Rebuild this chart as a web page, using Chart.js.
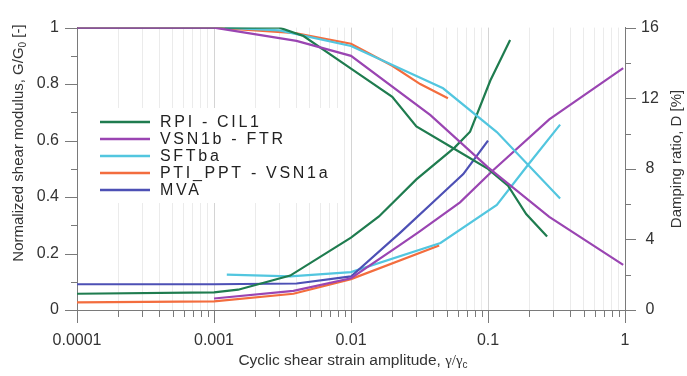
<!DOCTYPE html>
<html><head><meta charset="utf-8">
<script src="https://cdn.jsdelivr.net/npm/chart.js@4/dist/chart.umd.min.js"></script>
<style>html,body{margin:0;padding:0;background:#fff}#wrap{position:relative;width:687px;height:376px}</style>
</head><body><div id="wrap"><canvas id="c"></canvas></div>
<script>
// ---- tick labels ----
const xTickLabels = ['0.0001', '0.001', '0.01', '0.1', '1'];
const gTickLabels = ['0', '0.2', '0.4', '0.6', '0.8', '1'];
const dTickLabels = ['0', '4', '8', '12', '16'];

// ---- series names / colours ----
const seriesNames = ['RPI - CIL1', 'VSN1b - FTR', 'SFTba', 'PTI_PPT - VSN1a', 'MVA'];
const seriesColors = ['#1f7c4f', '#9a45b2', '#52c6df', '#f36d3e', '#4d50b5'];

// ---- G/G0 curves (left axis) ----
const rpiG_x = [0.0001, 0.001, 0.003, 0.0045, 0.01, 0.02, 0.03, 0.057, 0.1, 0.14, 0.19, 0.27];
const rpiG   = [1, 1, 1, 0.97, 0.855, 0.755, 0.65, 0.57, 0.50, 0.44, 0.34, 0.26];
const vsnG_x = [0.0001, 0.001, 0.004, 0.01, 0.038, 0.1, 0.28, 0.97];
const vsnG   = [1, 1, 0.953, 0.90, 0.69, 0.505, 0.33, 0.16];
const sftG_x = [0.0012, 0.003, 0.01, 0.047, 0.116, 0.336];
const sftG   = [1, 0.99, 0.935, 0.785, 0.63, 0.395];
const ptiG_x = [0.0001, 0.001, 0.004, 0.01, 0.02, 0.032, 0.051];
const ptiG   = [1, 1, 0.98, 0.943, 0.865, 0.80, 0.75];

// ---- Damping curves (right axis, %) ----
const rpiD_x = [0.0001, 0.001, 0.0015, 0.0036, 0.01, 0.016, 0.03, 0.057, 0.074, 0.104, 0.145];
const rpiD   = [0.92, 1.0, 1.15, 1.95, 4.1, 5.3, 7.4, 9.2, 10.1, 13.0, 15.3];
const vsnD_x = [0.001, 0.0038, 0.01, 0.022, 0.031, 0.0625, 0.11, 0.28, 0.97];
const vsnD   = [0.65, 1.08, 1.8, 3.6, 4.4, 6.1, 7.95, 10.8, 13.7];
const sftD_x = [0.00124, 0.0036, 0.01, 0.045, 0.116, 0.195, 0.336];
const sftD   = [2.0, 1.9, 2.15, 3.8, 5.95, 8.2, 10.5];
const ptiD_x = [0.0001, 0.001, 0.0038, 0.01, 0.044];
const ptiD   = [0.43, 0.49, 0.92, 1.75, 3.65];
const mvaD_x = [0.0001, 0.001, 0.004, 0.01, 0.023, 0.045, 0.066, 0.1];
const mvaD   = [1.46, 1.46, 1.5, 1.9, 4.4, 6.5, 7.7, 9.6];

const FONT = "'Liberation Sans', Arial, sans-serif";
const AXIS = '#7a7a7a';
const TXT = '#333333';

function pts(xs, ys) { return xs.map((v, i) => ({x: v, y: ys[i]})); }
function ds(label, xs, ys, color, axis) {
  return {label, data: pts(xs, ys), borderColor: color, backgroundColor: color,
    yAxisID: axis, borderWidth: 2.2, pointRadius: 0, tension: 0, fill: false};
}

const datasets = [
  ds('VSN1b - FTR G', vsnG_x, vsnG, seriesColors[1], 'y'),
  ds('RPI - CIL1 G', rpiG_x, rpiG, seriesColors[0], 'y'),
  ds('SFTba G', sftG_x, sftG, seriesColors[2], 'y'),
  ds('PTI_PPT - VSN1a G', ptiG_x, ptiG, seriesColors[3], 'y'),
  ds('RPI - CIL1 D', rpiD_x, rpiD, seriesColors[0], 'y1'),
  ds('VSN1b - FTR D', vsnD_x, vsnD, seriesColors[1], 'y1'),
  ds('MVA D', mvaD_x, mvaD, seriesColors[4], 'y1'),
  ds('SFTba D', sftD_x, sftD, seriesColors[2], 'y1'),
  ds('PTI_PPT - VSN1a D', ptiD_x, ptiD, seriesColors[3], 'y1'),
];

function isPow10(v) { const l = Math.log10(v); return Math.abs(l - Math.round(l)) < 1e-9; }

function drawPieces(ctx, pieces, cx, cy, rot) {
  ctx.save();
  ctx.translate(cx, cy);
  ctx.rotate(rot);
  ctx.textBaseline = 'middle';
  ctx.textAlign = 'left';
  let total = 0;
  pieces.forEach(p => { ctx.font = p.font; p.w = ctx.measureText(p.text).width; total += p.w; });
  let xx = -total / 2;
  pieces.forEach(p => { ctx.font = p.font; ctx.fillStyle = TXT; ctx.fillText(p.text, xx, p.dy || 0); xx += p.w; });
  ctx.restore();
}

const decor = {
  id: 'decor',
  afterDraw(chart) {
    const ctx = chart.ctx;
    const {x, y, y1} = chart.scales;
    const a = chart.chartArea;
    ctx.save();
    ctx.strokeStyle = AXIS; ctx.lineWidth = 1;
    ctx.beginPath();
    for (let i = 0; i <= 10; i++) {
      const py = Math.round(y.getPixelForValue(i / 10)) + 0.5;
      const len = i % 2 === 0 ? 12 : 6;
      ctx.moveTo(a.left - len, py); ctx.lineTo(a.left, py);
    }
    for (let i = 0; i <= 8; i++) {
      const py = Math.round(y1.getPixelForValue(i * 2)) + 0.5;
      const len = i % 2 === 0 ? 11 : 6;
      ctx.moveTo(a.right, py); ctx.lineTo(a.right + len, py);
    }
    x.ticks.forEach(t => {
      const px = Math.round(x.getPixelForValue(t.value)) + 0.5;
      const len = isPow10(t.value) ? 13 : 7;
      ctx.moveTo(px, a.bottom); ctx.lineTo(px, a.bottom + len);
    });
    ctx.stroke();

    // legend
    const lx = 100, ly0 = 122, step = 17;
    ctx.fillStyle = '#ffffff';
    ctx.fillRect(86, 108, 258, 95);
    seriesNames.forEach((n, i) => {
      const yy = ly0 + i * step;
      ctx.strokeStyle = seriesColors[i]; ctx.lineWidth = 2.5;
      ctx.beginPath(); ctx.moveTo(lx, yy); ctx.lineTo(lx + 50, yy); ctx.stroke();
      ctx.font = '16px ' + FONT;
      ctx.letterSpacing = '2.7px';
      ctx.fillStyle = '#222';
      ctx.textBaseline = 'middle'; ctx.textAlign = 'left';
      ctx.fillText(n, lx + 60, yy + 1);
      ctx.letterSpacing = '0px';
    });
    ctx.restore();

    // axis titles
    const cxPlot = (a.left + a.right) / 2;
    drawPieces(ctx, [
      {text: 'Cyclic shear strain amplitude, ', font: '15.5px ' + FONT},
      {text: 'γ/γ', font: "15px 'Liberation Serif', 'Times New Roman', serif"},
      {text: 'c', font: '10px ' + FONT, dy: 4}
    ], cxPlot + 2, 361, 0);
    drawPieces(ctx, [
      {text: 'Normalized shear modulus, G/G', font: '15px ' + FONT},
      {text: '0', font: '10px ' + FONT, dy: 4},
      {text: ' [-]', font: '15px ' + FONT}
    ], 19, 143, -Math.PI / 2);
    drawPieces(ctx, [
      {text: 'Damping ratio, D [%]', font: '15px ' + FONT}
    ], 677, 159, -Math.PI / 2);
  }
};

new Chart(document.getElementById('c'), {
  type: 'line',
  data: {datasets},
  plugins: [decor],
  options: {
    responsive: true, maintainAspectRatio: false, animation: false,
    layout: {padding: {top: 14, left: 0, right: 0, bottom: 0}},
    plugins: {legend: {display: false}, tooltip: {enabled: false}},
    scales: {
      x: {
        type: 'logarithmic', position: 'bottom', min: 0.0001, max: 1,
        afterBuildTicks: s => {
          const t = [];
          for (let k = -4; k <= 0; k++) for (let n = 1; n <= 9; n++) {
            const v = n * Math.pow(10, k);
            if (v <= 1.0000001) t.push({value: v});
          }
          s.ticks = t;
        },
        afterFit: s => { s.height = 66; },
        grid: {drawTicks: false, color: c => (c.tick && isPow10(c.tick.value)) ? '#d4d4d4' : '#ebebeb', lineWidth: 1},
        border: {display: true, color: AXIS, width: 1},
        ticks: {
          autoSkip: false, maxRotation: 0, minRotation: 0, padding: 21, color: TXT,
          font: {size: 16, family: FONT},
          callback: v => isPow10(v) ? xTickLabels[Math.round(Math.log10(v)) + 4] : ''
        }
      },
      y: {
        type: 'linear', position: 'left', min: 0, max: 1,
        afterFit: s => { s.width = 77; },
        grid: {display: true, drawOnChartArea: false, drawTicks: false},
        border: {display: true, color: AXIS, width: 1},
        ticks: {stepSize: 0.2, padding: 18, color: TXT, font: {size: 16, family: FONT},
          callback: v => gTickLabels[Math.round(v * 5)]}
      },
      y1: {
        type: 'linear', position: 'right', min: 0, max: 16,
        afterFit: s => { s.width = 62; },
        grid: {display: true, drawOnChartArea: false, drawTicks: false},
        border: {display: true, color: AXIS, width: 1},
        ticks: {stepSize: 4, padding: 16, crossAlign: 'center', color: TXT, font: {size: 16, family: FONT},
          callback: v => dTickLabels[Math.round(v / 4)]}
      }
    }
  }
});
</script></body></html>
